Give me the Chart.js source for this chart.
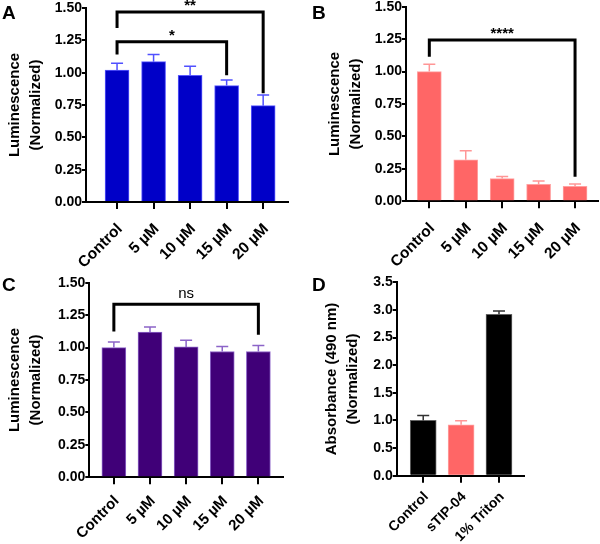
<!DOCTYPE html>
<html>
<head>
<meta charset="utf-8">
<script src="https://cdn.jsdelivr.net/npm/chart.js@4"></script>
<style>
  body { margin: 0; background: #fff; }
  #wrap { position: relative; width: 600px; height: 544px; }
  canvas { position: absolute; }
  .letter { position: absolute; font: bold 19px "Liberation Sans", Arial, sans-serif; line-height: 19px; color: #000; }
</style>
</head>
<body>
<div id="wrap">
  <canvas id="chartA" width="300" height="270" style="left:0;top:0"></canvas>
  <canvas id="chartB" width="300" height="270" style="left:300px;top:0"></canvas>
  <canvas id="chartC" width="300" height="274" style="left:0;top:270px"></canvas>
  <canvas id="chartD" width="300" height="274" style="left:300px;top:270px"></canvas>
  <div class="letter" style="left:2px;top:2.5px">A</div>
  <div class="letter" style="left:312px;top:2.5px">B</div>
  <div class="letter" style="left:2px;top:274.5px">C</div>
  <div class="letter" style="left:312px;top:274.5px">D</div>
</div>
<script>
/* data */
const concLabels = ['Control', '5 µM', '10 µM', '15 µM', '20 µM'];
const lumA = [1.02, 1.085, 0.98, 0.90, 0.745];
const errA = [0.052, 0.055, 0.07, 0.043, 0.083];
const lumB = [1.00, 0.32, 0.175, 0.13, 0.115];
const errB = [0.056, 0.07, 0.016, 0.026, 0.018];
const lumC = [1.00, 1.12, 1.005, 0.97, 0.97];
const errC = [0.043, 0.039, 0.051, 0.039, 0.046];
const cytoLabels = ['Control', 'sTIP-04', '1% Triton'];
const absD = [1.00, 0.92, 2.92];
const errD = [0.09, 0.073, 0.06];

/* significance brackets: from bar, to bar, bar height, left leg end, right leg end, label */
const sigA = [
  { from: 0, to: 4, y: 1.47, ya: 1.345, yb: 0.84, text: '**' },
  { from: 0, to: 3, y: 1.24, ya: 1.14, yb: 0.98, text: '*' }
];
const sigB = [{ from: 0, to: 4, y: 1.244, ya: 1.115, yb: 0.19, text: '****' }];
const sigC = [{ from: 0, to: 4, y: 1.334, ya: 1.123, yb: 1.098, text: 'ns' }];

const FONT = '"Liberation Sans", Arial, sans-serif';

const extras = {
  id: 'extras',
  afterDatasetsDraw(chart, args, opts) {
    const ctx = chart.ctx, xs = chart.scales.x, ys = chart.scales.y;
    const pts = chart.data.datasets[0].data;
    ctx.save();
    // error bars (upper only)
    ctx.lineWidth = 1.5;
    pts.forEach((p, i) => {
      const x = xs.getPixelForValue(p.x);
      const y0 = ys.getPixelForValue(p.y);
      const y1 = ys.getPixelForValue(p.y + opts.err[i]);
      ctx.strokeStyle = opts.errColor[i];
      ctx.beginPath();
      ctx.moveTo(x, y0);
      ctx.lineTo(x, y1);
      ctx.moveTo(x - 6, y1);
      ctx.lineTo(x + 6, y1);
      ctx.stroke();
    });
    // brackets
    ctx.strokeStyle = '#000';
    ctx.fillStyle = '#000';
    ctx.lineWidth = 3;
    ctx.lineJoin = 'miter';
    (opts.brackets || []).forEach(b => {
      const xa = xs.getPixelForValue(b.from), xb = xs.getPixelForValue(b.to);
      const yy = ys.getPixelForValue(b.y);
      ctx.beginPath();
      ctx.moveTo(xa, ys.getPixelForValue(b.ya));
      ctx.lineTo(xa, yy);
      ctx.lineTo(xb, yy);
      ctx.lineTo(xb, ys.getPixelForValue(b.yb));
      ctx.stroke();
      const ns = b.text === 'ns';
      ctx.font = (ns ? '' : 'bold ') + '15px ' + FONT;
      ctx.textAlign = 'center';
      ctx.textBaseline = 'alphabetic';
      ctx.fillText(b.text, (xa + xb) / 2, yy - (ns ? 6 : 2));
    });
    ctx.restore();
  }
};

function makePanel(id, p) {
  const data = p.values.map((v, i) => ({ x: i, y: v }));
  return new Chart(document.getElementById(id), {
    type: 'bar',
    data: {
      datasets: [{
        data: data,
        backgroundColor: p.fill,
        borderColor: p.border,
        borderWidth: 1,
        barThickness: p.barW
      }]
    },
    options: {
      responsive: false,
      animation: false,
      layout: { padding: { top: p.top, right: p.right, left: 0, bottom: 0 } },
      plugins: {
        legend: { display: false },
        tooltip: { enabled: false },
        extras: { err: p.err, errColor: p.errColor, brackets: p.brackets }
      },
      scales: {
        x: {
          type: 'linear',
          offset: false,
          min: p.xmin,
          max: p.xmax,
          afterBuildTicks: s => { s.ticks = p.labels.map((_, i) => ({ value: i })); },
          afterFit: s => {
            s.height = p.xh;
            s.paddingLeft = 0; s.paddingRight = 0; s.paddingTop = 0; s.paddingBottom = 0;
          },
          ticks: {
            callback: v => p.labels[v],
            minRotation: 45, maxRotation: 45,
            color: '#000', padding: p.xPad, labelOffset: 3,
            font: { family: FONT, size: p.xFont, weight: 'bold' }
          },
          grid: { offset: false, drawOnChartArea: false, color: '#000', lineWidth: 2, tickLength: 7 },
          border: { color: '#000', width: 2 }
        },
        y: {
          min: 0,
          max: p.ymax,
          afterFit: s => {
            s.width = p.axisX;
            s.paddingLeft = 0; s.paddingRight = 0; s.paddingTop = 0; s.paddingBottom = 0;
          },
          ticks: {
            stepSize: p.step,
            callback: v => v.toFixed(p.dec),
            color: '#000', padding: 0,
            font: { family: FONT, size: 14, weight: 'bold' }
          },
          grid: { drawOnChartArea: false, color: '#000', lineWidth: 2, tickLength: 4 },
          border: { color: '#000', width: 2 },
          title: {
            display: true,
            text: p.title,
            color: '#000',
            padding: { top: p.titlePad, bottom: 0 },
            font: { family: FONT, size: 15, weight: 'bold', lineHeight: 1.4 }
          }
        }
      }
    },
    plugins: [extras]
  });
}

const lumTitle = ['Luminescence', '(Normalized)'];

makePanel('chartA', {
  labels: concLabels, values: lumA, err: errA, brackets: sigA,
  fill: 'rgb(0,0,200)', border: 'rgb(90,90,255)', errColor: Array(5).fill('rgb(80,80,255)'),
  barW: 24, axisX: 86, top: 8, right: 12, xh: 68, xmin: -0.85, xmax: 4.68, xFont: 15.5, xPad: 11,
  ymax: 1.5, step: 0.25, dec: 2, title: lumTitle, titlePad: 4.5
});

makePanel('chartB', {
  labels: concLabels, values: lumB, err: errB, brackets: sigB,
  fill: 'rgb(255,102,102)', border: 'rgb(255,160,160)', errColor: Array(5).fill('rgb(255,150,150)'),
  barW: 24, axisX: 106, top: 6.7, right: 2, xh: 68.7, xmin: -0.64, xmax: 4.63, xFont: 15.5, xPad: 11,
  ymax: 1.5, step: 0.25, dec: 2, title: lumTitle, titlePad: 24.5
});

makePanel('chartC', {
  labels: concLabels, values: lumC, err: errC, brackets: sigC,
  fill: 'rgb(64,0,120)', border: 'rgb(140,100,200)', errColor: Array(5).fill('rgb(140,100,200)'),
  barW: 24, axisX: 89.3, top: 12.7, right: 16.7, xh: 66.7, xmin: -0.68, xmax: 4.69, xFont: 15, xPad: 8,
  ymax: 1.5, step: 0.25, dec: 2, title: lumTitle, titlePad: 4.5
});

makePanel('chartD', {
  labels: cytoLabels, values: absD, err: errD, brackets: [],
  fill: ['#000', 'rgb(255,102,102)', '#000'], border: ['rgb(100,100,100)', 'rgb(255,160,160)', 'rgb(100,100,100)'],
  errColor: ['rgb(50,50,50)', 'rgb(255,150,150)', 'rgb(50,50,50)'],
  barW: 26, axisX: 96.7, top: 12.3, right: 76, xh: 68.3, xmin: -0.70, xmax: 2.66, xFont: 14, xPad: 6,
  ymax: 3.5, step: 0.5, dec: 1, title: ['Absorbance (490 nm)', '(Normalized)'], titlePad: 21.5
});
</script>
</body>
</html>
